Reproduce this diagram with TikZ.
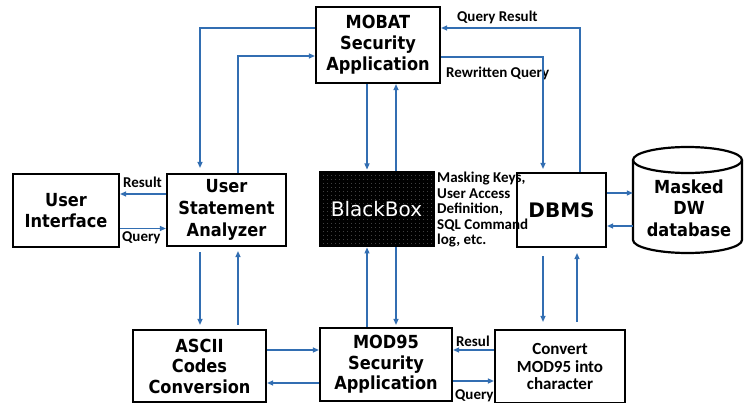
\documentclass[tikz,border=0pt]{standalone}
\usepackage{fontspec}
\setmainfont{DejaVu Sans}
\newfontfamily\boxfont{DejaVu Sans}[FakeStretch=0.9]
\newfontfamily\calfont{Carlito}
\usetikzlibrary{arrows.meta,patterns.meta,calc}
\definecolor{lnblue}{RGB}{50,110,178}
\begin{document}
\begin{tikzpicture}[x=1pt,y=-1pt,
  box/.style={draw=black, line width=2.2pt, fill=white, inner sep=0pt, align=center,
    font=\boxfont\bfseries\fontsize{18}{21}\selectfont},
  arr/.style={draw=lnblue, line width=1.2pt, -{Triangle[length=6pt,width=5pt]}},
  lbl/.style={font=\calfont\bfseries\fontsize{15}{15.5}\selectfont, inner sep=0pt, text=black}]
\useasboundingbox (0,0) rectangle (744,403);
\fill[white] (0,0) rectangle (744,403);

% boxes
\node[box, minimum width=124pt, minimum height=76pt] (mobat) at (378,45) {MOBAT\\Security\\Application};
\node[box, minimum width=106pt, minimum height=73pt] (ui) at (66,210.5) {User\\Interface};
\node[box, minimum width=119pt, minimum height=72pt, font=\boxfont\bfseries\fontsize{18}{22}\selectfont] (usa) at (226.5,210) {User\\Statement\\Analyzer};
\node[draw=black, fill=black, line width=1pt, minimum width=115pt, minimum height=75pt, inner sep=0pt] (bb) at (376.5,209.5) {};
\fill[pattern={Dots[distance=4pt, radius=0.45pt]}, pattern color=gray!80] ([shift={(1.5pt,1.5pt)}]bb.south west) rectangle ([shift={(-1.5pt,-1.5pt)}]bb.north east);
\node[text=white, font=\fontsize{20}{20}\selectfont, inner sep=0pt] (bbt) at (bb.center) {BlackBox};
\node[box, minimum width=89pt, minimum height=74pt, font=\bfseries\fontsize{20}{20}\selectfont] (dbms) at (561.5,210) {DBMS};
\node[box, minimum width=133pt, minimum height=72pt, font=\boxfont\bfseries\fontsize{18}{20.5}\selectfont] (ascii) at (199.5,366) {ASCII\\Codes\\Conversion};
\node[box, minimum width=132pt, minimum height=73pt, font=\boxfont\bfseries\fontsize{18}{20.5}\selectfont] (mod) at (386,364.5) {MOD95\\Security\\Application};

% labels (drawn before Convert box so it covers the clipped text)
\node[lbl, anchor=west] (res2) at (456,341) {Resul};
\node[lbl, anchor=west] (q2) at (455,396) {Query};
\node[box, minimum width=130pt, minimum height=73pt, font=\calfont\bfseries\fontsize{17}{17.5}\selectfont] (conv) at (560,366.5) {Convert\\MOD95 into\\character};

% cylinder
\node[minimum width=109pt, minimum height=106pt, inner sep=0pt] (cyl) at (687.5,200) {};
\fill[white] (633,160) -- (633,240) arc[start angle=180, end angle=0, x radius=54.5, y radius=13] -- (742,160) -- cycle;
\draw[line width=2.2pt] (633,160) -- (633,240) arc[start angle=180, end angle=0, x radius=54.5, y radius=13] -- (742,160);
\draw[line width=2.2pt, fill=white] (687.5,160) ellipse[x radius=54.5, y radius=13];
\node[align=center, inner sep=0pt, font=\boxfont\bfseries\fontsize{18}{21.5}\selectfont] (dwt) at (689,208) {Masked\\DW\\database};

% text labels
\node[lbl, anchor=west] (qr) at (457,17) {Query Result};
\node[lbl, anchor=west] (rq) at (446,73) {Rewritten Query};
\node[lbl, anchor=west] (res1) at (123,182) {Result};
\node[lbl, anchor=west] (q1) at (122,238) {Query};
\node[lbl, anchor=west, align=left] (mk) at (437,210) {Masking Keys,\\User Access\\Definition,\\SQL Command\\log, etc.};

% connectors: MOBAT <-> USA
\draw[arr, shorten >=5pt] ([yshift=17pt]mobat.west) -| ([xshift=-26.5pt]usa.north);
\draw[arr] ([xshift=11.5pt]usa.north) |- ([yshift=-11pt]mobat.west);
% MOBAT <-> BlackBox
\draw[arr, shorten >=2pt] ([xshift=-11pt]mobat.south) -- ([xshift=-11pt]mobat.south |- bb.north);
\draw[arr] ([xshift=18pt]mobat.south |- bb.north) -- ([xshift=18pt]mobat.south);
% MOBAT <-> DBMS
\draw[arr] ([xshift=18.5pt]dbms.north) |- ([yshift=17pt]mobat.east);
\draw[arr, shorten >=3pt] ([yshift=-12pt]mobat.east) -| ([xshift=-18.5pt]dbms.north);
% UI <-> USA
\draw[arr] ([yshift=16pt]usa.west) -- ([yshift=16pt]usa.west -| ui.east);
\draw[arr] ([yshift=-18pt]ui.east) -- ([yshift=-18pt]ui.east -| usa.west);
% USA <-> ASCII
\draw[arr, shorten <=5pt, shorten >=4pt] ([xshift=-26.5pt]usa.south) -- ([xshift=-26.5pt]usa.south |- ascii.north);
\draw[arr, shorten <=4pt, shorten >=4pt] ([xshift=11.5pt]usa.south |- ascii.north) -- ([xshift=11.5pt]usa.south);
% DBMS <-> cylinder
\draw[arr] ([yshift=17pt]dbms.east) -- ([yshift=17pt]dbms.east -| cyl.west);
\draw[arr] ([yshift=-16pt]dbms.east -| cyl.west) -- ([yshift=-16pt]dbms.east);
% BlackBox <-> MOD95
\draw[arr] ([xshift=-9.5pt]bb.south |- mod.north) -- ([xshift=-9.5pt]bb.south);
\draw[arr, shorten >=2pt] ([xshift=19.5pt]bb.south) -- ([xshift=19.5pt]bb.south |- mod.north);
% DBMS <-> Convert
\draw[arr, shorten <=8pt, shorten >=7pt] ([xshift=-18.5pt]dbms.south) -- ([xshift=-18.5pt]dbms.south |- conv.north);
\draw[arr, shorten <=7pt, shorten >=5pt] ([xshift=15.5pt]dbms.south |- conv.north) -- ([xshift=15.5pt]dbms.south);
% ASCII <-> MOD95
\draw[arr] ([yshift=16pt]ascii.east) -- ([yshift=16pt]ascii.east -| mod.west);
\draw[arr] ([yshift=-17pt]ascii.east -| mod.west) -- ([yshift=-17pt]ascii.east);
% MOD95 <-> Convert
\draw[arr] ([yshift=16.5pt]conv.west) -- ([yshift=16.5pt]conv.west -| mod.east);
\draw[arr] ([yshift=-16.5pt]mod.east) -- ([yshift=-16.5pt]mod.east -| conv.west);
\end{tikzpicture}
\end{document}
